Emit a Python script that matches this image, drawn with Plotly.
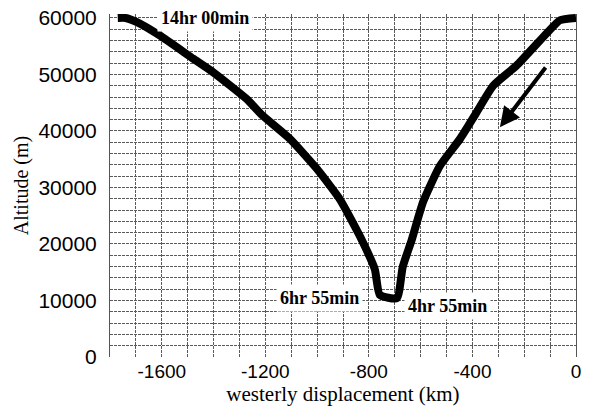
import plotly.graph_objects as go

# Trajectory (from launch at top right, down to the minimum, and back up to the west)
x_km = [0, -62, -113, -229, -320, -384, -448, -526, -591, -634, -669, -692,
        -758, -777, -835, -912, -1001, -1105, -1210, -1273, -1402, -1479,
        -1608, -1698, -1740, -1770]
alt_m = [60000, 59600, 57300, 51600, 48000, 43300, 38600, 33800, 27400, 20800,
         16000, 10400, 11000, 15500, 21400, 27900, 33300, 38600, 42700, 45700,
         50400, 52800, 56900, 59300, 60000, 60000]

# Grid positions and tick labels (labels only on the labelled positions)
x_gridvals = list(range(-1800, 1, 100))
x_labelled = {-1600: "-1600", -1200: "-1200", -800: "-800", -400: "-400", 0: "0"}
y_gridvals = list(range(0, 60001, 2000))
y_labelled = {0: "0", 10000: "10000", 20000: "20000", 30000: "30000",
              40000: "40000", 50000: "50000", 60000: "60000"}

labels = ["14hr 00min", "6hr 55min", "4hr 55min"]
label_x = [-1434, -989, -495]
label_y = [60000, 10440, 9110]

arrow_tail = (-113, 51500)
arrow_tip = (-294, 40670)

grid_color = "#5a5a5a"
grid_dash = "3px,1px"

fig = go.Figure()
fig.add_trace(go.Scatter(
    x=x_km, y=alt_m, mode="lines",
    line=dict(color="black", width=8, shape="spline", smoothing=0.5),
    showlegend=False, hoverinfo="skip",
))

for t, lx, ly in zip(labels, label_x, label_y):
    fig.add_annotation(
        x=lx, y=ly, text=t, showarrow=False,
        font=dict(family="Liberation Serif", size=18, color="black", weight="bold"),
        bgcolor="white", borderpad=3, xanchor="center", yanchor="middle",
    )

fig.add_annotation(
    x=arrow_tip[0], y=arrow_tip[1], ax=arrow_tail[0], ay=arrow_tail[1],
    axref="x", ayref="y", xref="x", yref="y",
    showarrow=True, arrowhead=2, arrowsize=1.0, arrowwidth=4, arrowcolor="black",
    text="",
)

fig.update_layout(
    width=589, height=414,
    margin=dict(l=110, r=13, t=14, b=57),
    paper_bgcolor="white", plot_bgcolor="white",
    showlegend=False,
)

fig.update_xaxes(
    range=[-1800, 0], automargin=False,
    tickmode="array", tickvals=x_gridvals,
    ticktext=[x_labelled.get(v, "") for v in x_gridvals],
    tickfont=dict(family="Liberation Sans", size=19, color="black"),
    ticks="", ticklabelstandoff=1,
    showgrid=True, gridcolor=grid_color, griddash=grid_dash, gridwidth=1,
    zeroline=False, showline=False,
    title=dict(text="westerly displacement (km)",
               font=dict(family="Liberation Serif", size=21, color="black"),
               standoff=4),
)

fig.update_yaxes(
    range=[0, 60700], automargin=False,
    tickmode="array", tickvals=y_gridvals,
    ticktext=[y_labelled.get(v, "") for v in y_gridvals],
    tickfont=dict(family="Liberation Sans", size=21, color="black"),
    ticks="", ticklabelstandoff=8,
    showgrid=True, gridcolor=grid_color, griddash=grid_dash, gridwidth=1,
    zeroline=False,
    showline=True, linecolor="#555", linewidth=1, mirror=True,
    title=dict(text="Altitude (m)",
               font=dict(family="Liberation Serif", size=20, color="black"),
               standoff=4),
)

fig.write_html("out.html")
